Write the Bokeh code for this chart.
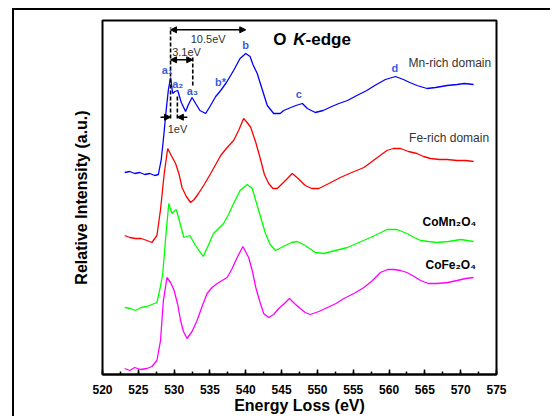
from bokeh.plotting import figure
from bokeh.models import (Range1d, Label, Arrow, NormalHead, SingleIntervalTicker, FixedTicker)
from bokeh.embed import file_html
from bokeh.resources import INLINE

# ---- data (intensity in arbitrary, offset units) ----
mn_E = [523.1, 523.8, 524.5, 525.2, 525.9, 526.6, 527.3, 527.8, 528.2, 528.5, 528.9, 529.2,
        529.5, 529.8, 530.1, 530.5, 531.0, 531.6, 532.0, 532.5, 533.0, 533.6, 534.4, 535.0,
        535.8, 536.5, 537.3, 538.3, 539.2, 540.0, 540.6, 541.0, 541.6, 542.3, 543.0, 543.9,
        544.8, 545.3, 546.3, 547.0, 547.9, 548.6, 549.7, 550.8, 552.0, 553.0, 554.2, 555.5,
        556.9, 558.0, 559.5, 560.9, 562.0, 562.9, 563.9, 565.3, 566.5, 568.1, 569.5, 570.5, 571.8]
mn_I = [202, 203, 201, 202, 200, 201, 199, 200, 215, 235, 265, 285,
        297, 281, 283, 284, 272, 263, 270, 277, 271, 264, 261, 268,
        278, 284, 292, 304, 316, 321, 318, 310, 301, 285, 269, 261,
        261, 264, 267, 269, 271, 266, 262, 264, 268, 271, 274, 279,
        284, 289, 295, 298, 295, 292, 289, 286, 287, 289, 290, 291, 290]

fe_E = [523.1, 523.8, 524.6, 525.4, 526.2, 526.9, 527.6, 528.1, 528.6, 529.1, 529.6, 530.2,
        530.7, 531.1, 531.7, 532.3, 532.8, 533.4, 534.2, 535.1, 535.8, 536.5, 537.4, 538.3,
        539.0, 539.7, 540.2, 540.7, 541.4, 542.1, 542.6, 543.2, 543.8, 544.4, 545.4, 546.5,
        547.3, 548.3, 549.2, 550.2, 551.6, 553.2, 554.8, 556.5, 558.0, 559.7, 560.6, 561.6,
        562.7, 563.9, 564.8, 565.8, 567.0, 568.1, 569.5, 570.7, 571.8]
fe_I = [139, 137, 136, 136, 134, 132, 139, 165, 200, 226, 219, 211,
        200, 187, 178, 172, 175, 181, 190, 201, 210, 219, 227, 234,
        244, 256, 252, 247, 232, 214, 200, 191, 186, 186, 193, 201,
        196, 189, 186, 186, 191, 197, 202, 207, 215, 224, 226, 226,
        223, 221, 218, 216, 215, 215, 214, 214, 213]

comn_E = [523.1, 523.9, 524.6, 525.4, 526.2, 526.9, 527.6, 528.0, 528.4, 528.8, 529.25, 529.7,
          530.3, 530.8, 531.35, 532.2, 532.9, 534.05, 534.7, 535.5, 536.2, 536.9, 537.6, 538.3,
          539.2, 540.2, 540.9, 541.8, 542.75, 543.4, 544.15, 545.5, 546.4, 547.2, 548.3, 549.7,
          550.9, 552.5, 554.2, 555.8, 557.4, 558.6, 559.7, 561.1, 562.5, 563.5, 564.4, 565.5,
          566.7, 568.3, 570.0, 571.8]
comn_I = [67, 66, 64, 67, 68, 70, 72, 85, 100, 135, 171, 161,
          165, 152, 137, 139, 130, 118, 128, 141, 146, 151, 160, 171,
          184, 190, 186, 164, 141, 130, 124, 129, 132, 133, 129, 122,
          121, 124, 127, 132, 137, 141, 145, 145, 141, 137, 134, 133,
          132, 133, 135, 133]

cofe_E = [523.1, 523.8, 524.5, 525.3, 526.2, 526.9, 527.6, 528.1, 528.5, 529.0, 529.5, 530.0,
          530.5, 530.9, 531.3, 531.8, 532.5, 533.2, 533.9, 534.6, 535.3, 536.0, 536.7, 537.4,
          538.1, 538.8, 539.6, 540.4, 540.9, 541.4, 542.0, 542.5, 543.2, 543.9, 544.6, 545.4,
          546.1, 546.8, 547.6, 548.3, 549.0, 550.2, 551.4, 552.6, 553.7, 555.1, 556.5, 557.7,
          558.8, 559.8, 560.7, 561.6, 562.5, 563.5, 564.4, 565.5, 566.7, 568.2, 569.5, 570.7, 571.8]
cofe_I = [6, 4, 7, 5, 6, 8, 14, 34, 74, 97, 92, 84,
          70, 54, 43, 36, 43, 54, 68, 81, 87, 91, 94, 97,
          106, 117, 128, 117, 104, 87, 72, 61, 57, 60, 66, 71,
          76, 71, 66, 62, 60, 63, 67, 71, 76, 81, 87, 94,
          102, 105, 105, 104, 102, 98, 94, 91, 91, 92, 94, 96, 97]

x_ticks = [520, 525, 530, 535, 540, 545, 550, 555, 560, 565, 570, 575]

# peak energies used for the annotations
E_a1, E_a2, E_a3, E_b = 529.5, 530.45, 532.6, 540.0

FONT = "Liberation Sans"
LBL_BLUE = "#3a5ee0"

p = figure(width=538, height=408, output_backend="svg", toolbar_location=None,
           x_range=Range1d(520, 575), y_range=Range1d(0, 354),
           min_border_left=88, min_border_right=56, min_border_top=10, min_border_bottom=44)
p.styles = {"margin-left": "14px", "margin-top": "10px",
            "box-shadow": "-2px -2px 0px 0px black"}
p.background_fill_color = "white"
p.border_fill_color = "white"
p.outline_line_color = "black"
p.outline_line_width = 2
p.grid.visible = False

# x axis
p.xaxis.ticker = SingleIntervalTicker(interval=5, num_minor_ticks=2)
p.xaxis.major_label_overrides = {t: str(t) for t in x_ticks}
p.xaxis.axis_line_width = 2
p.xaxis.major_tick_in = 5
p.xaxis.major_tick_out = 0
p.xaxis.minor_tick_in = 3
p.xaxis.minor_tick_out = 0
p.xaxis.major_tick_line_width = 1.5
p.xaxis.minor_tick_line_width = 1.5
p.xaxis.major_label_text_font = FONT
p.xaxis.major_label_text_font_style = "bold"
p.xaxis.major_label_text_font_size = "12px"
p.xaxis.major_label_text_color = "black"
p.xaxis.major_label_standoff = 10
p.xaxis.axis_label = "Energy Loss (eV)"
p.xaxis.axis_label_text_font = FONT
p.xaxis.axis_label_text_font_style = "bold"
p.xaxis.axis_label_text_font_size = "16px"
p.xaxis.axis_label_text_color = "black"
p.xaxis.axis_label_standoff = 0

# y axis: label only
p.yaxis.ticker = FixedTicker(ticks=[])
p.yaxis.axis_line_color = None
p.yaxis.major_label_standoff = 0
p.yaxis.axis_label = "Relative Intensity (a.u.)"
p.yaxis.axis_label_text_font = FONT
p.yaxis.axis_label_text_font_style = "bold"
p.yaxis.axis_label_text_font_size = "16px"
p.yaxis.axis_label_text_color = "black"
p.yaxis.axis_label_standoff = 13

# spectra
p.line(mn_E, mn_I, line_color="#0000ff", line_width=1.3)
p.line(fe_E, fe_I, line_color="#ff0000", line_width=1.3)
p.line(comn_E, comn_I, line_color="#00ff00", line_width=1.3)
p.line(cofe_E, cofe_I, line_color="#ff00ff", line_width=1.3)

# dashed guide lines
p.segment(x0=[E_a1, E_a2, E_a3], y0=[256, 256, 289], x1=[E_a1, E_a2, E_a3], y1=[347, 279, 317],
          line_color="black", line_width=1.6, line_dash="4 2")

def head():
    return NormalHead(size=6, fill_color="black", line_color="black")

p.add_layout(Arrow(start=head(), end=head(), x_start=E_a1, y_start=344.7, x_end=E_b, y_end=344.7,
                   line_color="black", line_width=1.5))
p.add_layout(Arrow(start=head(), end=head(), x_start=E_a1, y_start=314.7, x_end=E_a3, y_end=314.7,
                   line_color="black", line_width=1.5))
p.add_layout(Arrow(end=head(), x_start=E_a1 - 1.4, y_start=257.3, x_end=E_a1, y_end=257.3,
                   line_color="black", line_width=1.5))
p.add_layout(Arrow(end=head(), x_start=E_a2 + 1.4, y_start=257.3, x_end=E_a2, y_end=257.3,
                   line_color="black", line_width=1.5))

def lab(x, y, text, size="11px", color="#333333", style="normal", align="left", **kw):
    p.add_layout(Label(x=x, y=y, text=text, text_font=FONT, text_font_size=size,
                       text_color=color, text_font_style=style, text_align=align,
                       text_baseline="middle", **kw))

lab((E_a1 + E_b) / 2, 335.7, "10.5eV", align="center")
lab(529.72, 322.3, "3.1eV")
lab(529.1, 245.7, "1eV")

# peak labels
lab(529.03, 304.7, "a\u2081", size="11px", color=LBL_BLUE, style="bold", align="center")
lab(530.5, 290.7, "a\u2082", size="11px", color=LBL_BLUE, style="bold", align="center")
lab(532.55, 284.0, "a\u2083", size="11px", color=LBL_BLUE, style="bold", align="center")
lab(536.47, 292.3, "b*", size="11px", color=LBL_BLUE, style="bold", align="center")
lab(539.96, 330.0, "b", size="11px", color=LBL_BLUE, style="bold", align="center")
lab(547.4, 280.7, "c", size="11px", color=LBL_BLUE, style="bold", align="center")
lab(560.8, 306.7, "d", size="11px", color=LBL_BLUE, style="bold", align="center")

# sample labels
lab(574.26, 311.3, "Mn-rich domain", size="12px", align="right")
lab(573.97, 236.3, "Fe-rich domain", size="12px", align="right")
lab(572.17, 152.3, "CoMn\u2082O\u2084", size="12px", color="black", style="bold", align="right")
lab(572.12, 110.0, "CoFe\u2082O\u2084", size="12px", color="black", style="bold", align="right")

# title "O K-edge"
lab(543.83, 334.7, "O", size="17px", color="black", style="bold")
lab(546.62, 334.7, "K", size="17px", color="black", style="bold italic")
lab(548.34, 334.7, "-edge", size="17px", color="black", style="bold")

open("out.html", "w").write(file_html(p, INLINE))
